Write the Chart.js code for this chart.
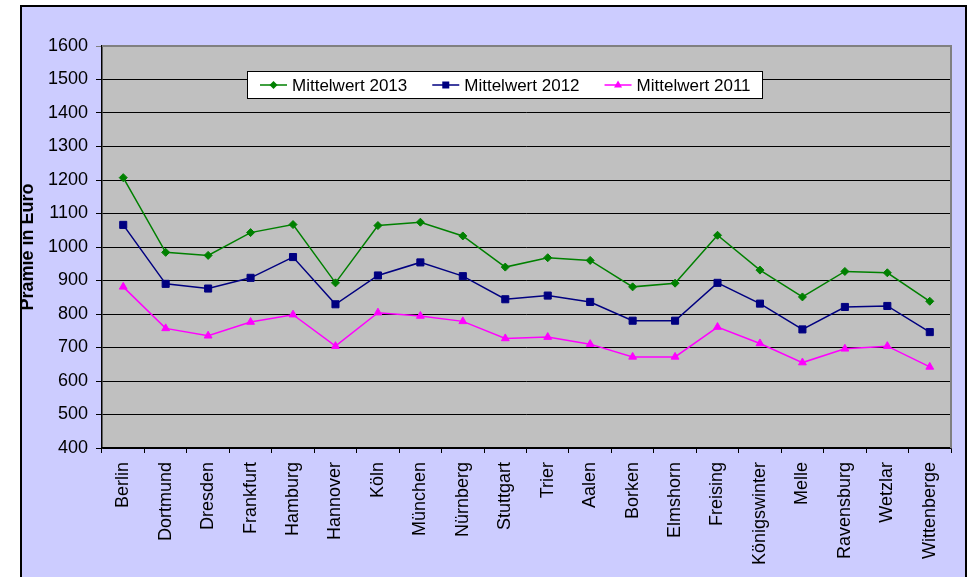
<!DOCTYPE html>
<html>
<head>
<meta charset="utf-8">
<script src="https://cdn.jsdelivr.net/npm/chart.js@4/dist/chart.umd.min.js"></script>
<style>
  html, body { margin: 0; padding: 0; background: #ffffff; }
  #wrap { position: absolute; left: 0; top: 0; width: 969px; height: 577px; }
</style>
</head>
<body>
<div id="wrap"><canvas id="c" width="969" height="577"></canvas></div>
<script>
const categories = ["Berlin","Dortmund","Dresden","Frankfurt","Hamburg","Hannover","Köln","München","Nürnberg","Stuttgart","Trier","Aalen","Borken","Elmshorn","Freising","Königswinter","Melle","Ravensburg","Wetzlar","Wittenberge"];
const mittelwert2013 = [1207, 984, 975, 1043, 1067, 893, 1064, 1074, 1033, 940, 968, 960, 881, 892, 1035, 931, 851, 927, 923, 838];
const mittelwert2012 = [1066, 890, 876, 908, 970, 829, 915, 954, 913, 844, 855, 836, 780, 780, 893, 831, 754, 821, 824, 746];
const mittelwert2011 = [881, 757, 735, 776, 798, 704, 804, 794, 778, 727, 731, 710, 672, 672, 761, 712, 655, 696, 704, 642];
const seriesNames = ["Mittelwert 2013", "Mittelwert 2012", "Mittelwert 2011"];
const yTicks = [400, 500, 600, 700, 800, 900, 1000, 1100, 1200, 1300, 1400, 1500, 1600];
const yTitle = "Prämie in Euro";

const FONT = "'Liberation Sans', Arial, sans-serif";

const framePlugin = {
  id: 'frame',
  beforeDraw(chart) {
    const ctx = chart.ctx;
    const a = chart.chartArea;
    ctx.save();
    ctx.fillStyle = '#ffffff';
    ctx.fillRect(0, 0, chart.width, chart.height);
    ctx.fillStyle = '#CCCCFF';
    ctx.fillRect(21, 6, 945, 600);
    ctx.strokeStyle = '#000000';
    ctx.lineWidth = 2;
    ctx.strokeRect(21, 6, 945, 600);
    ctx.fillStyle = '#C0C0C0';
    ctx.fillRect(a.left, a.top, a.right - a.left, a.bottom - a.top);
    ctx.restore();
  },
  beforeDatasetsDraw(chart) {
    const ctx = chart.ctx;
    const a = chart.chartArea;
    ctx.save();
    ctx.strokeStyle = '#808080';
    ctx.lineWidth = 2;
    ctx.beginPath();
    ctx.moveTo(a.left, a.top);
    ctx.lineTo(a.right, a.top);
    ctx.lineTo(a.right, a.bottom);
    ctx.stroke();
    ctx.restore();
  }
};

function drawMarker(ctx, style, x, y, color) {
  ctx.fillStyle = color;
  ctx.beginPath();
  if (style === 'rectRot') {
    ctx.moveTo(x - 4, y); ctx.lineTo(x, y - 4); ctx.lineTo(x + 4, y); ctx.lineTo(x, y + 4);
  } else if (style === 'rect') {
    ctx.rect(x - 3.5, y - 3.5, 7, 7);
  } else {
    ctx.moveTo(x, y - 4.5); ctx.lineTo(x + 4, y + 2.5); ctx.lineTo(x - 4, y + 2.5);
  }
  ctx.closePath();
  ctx.fill();
}

const legendPlugin = {
  id: 'boxLegend',
  afterDraw(chart) {
    const ctx = chart.ctx;
    ctx.save();
    const bx = 247.5, by = 71.5, bw = 515, bh = 27;
    ctx.fillStyle = '#ffffff';
    ctx.fillRect(bx, by, bw, bh);
    ctx.strokeStyle = '#000000';
    ctx.lineWidth = 1;
    ctx.strokeRect(bx, by, bw, bh);
    ctx.font = '17px ' + FONT;
    ctx.textBaseline = 'middle';
    ctx.textAlign = 'left';
    let x = bx + 12.5;
    const y = by + bh / 2;
    chart.data.datasets.forEach(ds => {
      ctx.strokeStyle = ds.borderColor;
      ctx.lineWidth = 1.5;
      ctx.beginPath();
      ctx.moveTo(x, y); ctx.lineTo(x + 27, y);
      ctx.stroke();
      drawMarker(ctx, ds.pointStyle, x + 13.5, y, ds.borderColor);
      ctx.fillStyle = '#000000';
      ctx.fillText(ds.label, x + 32, y + 1);
      x += 32 + ctx.measureText(ds.label).width + 25;
    });
    ctx.restore();
  }
};

const colors = ['#008000', '#000080', '#FF00FF'];
const styles = ['rectRot', 'rect', 'triangle'];
const radii = [4, 5, 4.5];
const values = [mittelwert2013, mittelwert2012, mittelwert2011];

new Chart(document.getElementById('c'), {
  type: 'line',
  data: {
    labels: categories,
    datasets: values.map((v, i) => ({
      label: seriesNames[i],
      data: v,
      borderColor: colors[i],
      backgroundColor: colors[i],
      pointBackgroundColor: colors[i],
      pointBorderColor: colors[i],
      pointStyle: styles[i],
      pointRadius: radii[i],
      pointBorderWidth: 1,
      borderWidth: 1.5,
      tension: 0,
      fill: false
    }))
  },
  options: {
    responsive: false,
    animation: false,
    devicePixelRatio: 1,
    layout: { padding: { left: 0, top: 46, right: 18, bottom: 0 } },
    plugins: { legend: { display: false }, tooltip: { enabled: false }, title: { display: false } },
    scales: {
      x: {
        type: 'category',
        offset: true,
        afterFit: s => { s.height = 129; },
        grid: { display: true, drawOnChartArea: false, offset: true, tickLength: 5, color: '#000000', lineWidth: 1 },
        border: { display: true, color: '#000000', width: 1.5 },
        ticks: { autoSkip: false, maxRotation: 90, minRotation: 90, padding: 9, color: '#000000', font: { family: FONT, size: 18 } }
      },
      y: {
        min: 400,
        max: 1600,
        afterFit: s => { s.width = 102; },
        afterBuildTicks: s => { s.ticks = yTicks.map(v => ({ value: v })); },
        grid: {
          drawOnChartArea: true, tickLength: 6, lineWidth: 1,
          color: ctx => (ctx.tick && ctx.tick.value === 1600) ? '#808080' : '#000000'
        },
        border: { display: true, color: '#000000', width: 1.5 },
        ticks: { stepSize: 100, padding: 8, color: '#000000', font: { family: FONT, size: 18 }, callback: v => String(v) },
        title: { display: true, text: yTitle, color: '#000000', padding: { top: 17, bottom: 0 }, font: { family: FONT, size: 18, weight: 'bold' } }
      }
    }
  },
  plugins: [framePlugin, legendPlugin]
});
</script>
</body>
</html>
